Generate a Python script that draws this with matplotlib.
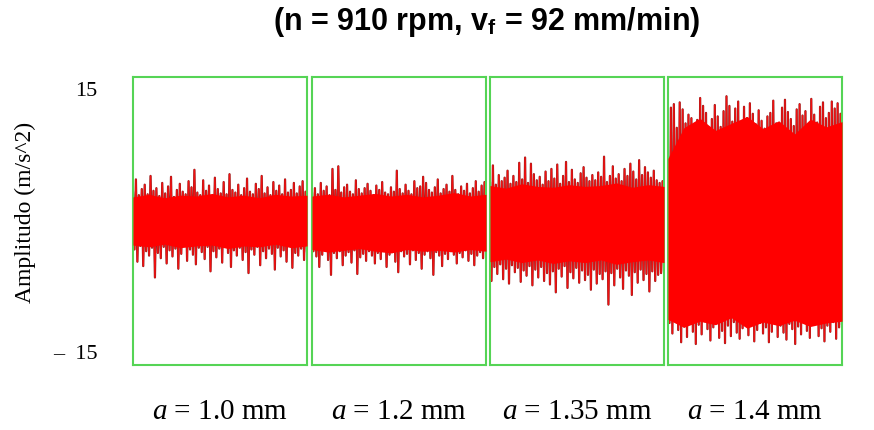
import numpy as np
import matplotlib.pyplot as plt

plt.rcParams['mathtext.fontset'] = 'custom'
plt.rcParams['mathtext.it'] = 'Liberation Serif:italic'
plt.rcParams['mathtext.rm'] = 'Liberation Serif'
plt.rcParams['mathtext.bf'] = 'Liberation Sans:bold'

title = r'(n = 910 rpm, v$_\mathbf{f}$ = 92 mm/min)'
y_label = 'Amplitudo (m/s^2)'
y_ticks = [15, -15]
y_tick_labels = ['15', '\u2013  15']
depth_labels = ['1.0', '1.2', '1.35', '1.4']

# peak values (upper and lower swing of the signal)
p1_upper = [3.1, 4.6, 2.8, 3.5, 4.0, 2.9, 5.0, 3.3, 3.6, 2.7, 4.2, 3.0, 3.8, 4.9, 2.6, 3.4, 4.1, 3.2, 2.9, 4.4,
            3.7, 5.7, 3.1, 2.8, 4.5, 3.3, 3.9, 2.7, 4.8, 3.5, 3.0, 4.3, 2.9, 5.2, 3.4, 3.1, 4.0, 2.8, 3.6, 4.7,
            3.2, 2.9, 4.1, 3.5, 5.0, 3.0, 3.7, 2.8, 4.3, 3.3, 3.9, 2.9, 4.6, 3.1, 3.4, 4.2, 3.0, 3.8, 4.4, 3.2]
p1_lower = [-3.4, -4.8, -3.0, -5.3, -3.6, -4.1, -3.2, -6.6, -3.8, -4.4, -3.1, -5.0, -3.5, -4.2, -3.3, -5.6, -3.9, -3.0, -4.7, -3.4,
            -4.0, -5.1, -3.2, -3.7, -4.5, -3.1, -5.9, -3.6, -4.3, -3.3, -4.9, -3.0, -3.8, -5.4, -3.5, -4.1, -3.2, -4.6, -3.7, -6.1,
            -3.4, -4.0, -3.1, -5.2, -3.6, -4.4, -3.3, -3.9, -5.7, -3.2, -4.2, -3.5, -4.8, -3.0, -5.5, -3.8, -4.1, -3.3, -4.6, -3.6]
p2_upper = [3.0, 3.6, 2.9, 4.2, 3.3, 3.8, 2.8, 5.8, 3.4, 6.1, 3.1, 3.7, 4.0, 3.2, 2.9, 4.5, 3.5, 3.0, 3.6, 4.1,
            3.3, 2.8, 3.9, 3.4, 4.3, 3.1, 2.9, 3.7, 3.2, 5.6, 3.5, 3.0, 4.0, 3.3, 2.9, 4.4, 3.6, 3.8, 4.9, 4.2,
            3.4, 3.1, 3.7, 4.6, 3.0, 3.5, 4.0, 3.2, 5.0, 3.4, 2.9, 3.8, 3.3, 4.1, 3.0, 3.6, 4.4, 3.2, 3.9, 4.3]
p2_lower = [-3.6, -4.2, -5.4, -4.0, -3.5, -4.6, -6.3, -3.8, -4.4, -3.6, -5.2, -4.1, -3.7, -4.9, -3.5, -6.2, -4.3, -3.9, -4.7, -3.6,
            -4.1, -5.0, -3.8, -4.5, -3.5, -5.4, -4.0, -3.7, -4.8, -6.0, -3.6, -4.2, -3.9, -5.1, -3.5, -4.6, -3.8, -5.6, -4.0, -3.6,
            -4.4, -6.3, -3.7, -4.1, -5.3, -3.9, -4.5, -3.6, -4.0, -5.0, -3.8, -4.3, -3.5, -4.7, -3.9, -5.2, -4.1, -3.7, -4.4, -3.6]
p3_upper = [4.2, 6.2, 4.0, 5.1, 4.4, 4.8, 5.6, 4.1, 5.0, 4.3, 6.5, 4.6, 7.1, 4.2, 6.4, 5.2, 4.5, 4.9, 4.0, 5.5,
            4.4, 5.8, 4.7, 6.3, 4.1, 5.0, 6.6, 4.3, 5.7, 4.6, 4.2, 5.3, 6.0, 4.8, 4.4, 5.1, 4.5, 5.4, 4.9, 7.2,
            4.3, 5.0, 6.1, 4.7, 5.2, 4.4, 5.8, 5.0, 6.4, 5.5, 4.6, 6.8, 5.1, 6.0, 5.4, 4.8, 5.6, 4.5, 4.2, 4.4]
p3_lower = [-7.0, -5.4, -6.2, -5.1, -6.8, -5.6, -7.3, -5.2, -6.0, -5.5, -7.1, -5.8, -6.4, -5.3, -7.5, -5.7, -6.6, -5.4, -7.0, -6.1,
            -7.4, -5.9, -8.3, -5.6, -6.5, -5.3, -7.8, -6.0, -6.7, -5.5, -7.2, -5.8, -6.9, -6.3, -8.0, -5.7, -7.3, -6.2, -6.8, -5.9,
            -9.7, -6.1, -7.5, -5.6, -6.6, -7.9, -5.8, -6.4, -8.6, -6.0, -7.2, -5.7, -6.9, -6.2, -8.2, -5.9, -7.0, -6.3, -6.1, -5.8]
p4_upper = [7.2, 12.8, 13.2, 10.5, 13.4, 12.6, 11.0, 12.0, 11.6, 10.8, 11.4, 13.9, 13.0, 12.2, 9.8, 11.5, 13.1, 11.8, 10.6, 12.4,
            14.1, 13.0, 11.2, 12.7, 13.5, 10.2, 12.9, 11.6, 13.3, 12.1, 10.9, 12.5, 11.3, 10.4, 11.8, 12.2, 13.6, 11.0, 9.2, 12.8,
            13.7, 12.3, 11.5, 10.7, 12.6, 13.2, 11.9, 12.4, 10.8, 13.8, 12.0, 11.1, 12.9, 13.4, 11.6, 12.2, 13.5, 12.7, 13.3, 12.1]
p4_lower = [-11.8, -13.0, -11.5, -12.6, -14.0, -12.2, -13.4, -11.9, -12.8, -14.2, -12.0, -13.1, -11.6, -12.5, -13.8, -12.3, -11.2, -13.5, -12.7, -14.1,
            -12.1, -13.3, -11.7, -12.9, -13.6, -12.4, -11.4, -13.2, -12.0, -13.9, -12.6, -11.8, -13.0, -12.3, -14.0, -12.8, -11.5, -13.4, -12.1, -12.9,
            -13.7, -11.9, -12.5, -14.2, -12.2, -13.1, -11.6, -12.7, -13.5, -12.0, -11.3, -13.3, -12.4, -13.9, -12.1, -12.8, -11.7, -13.6, -12.3, -11.9]

# solid core of each band (edges of the densely filled region)
c1_upper = [2.6, 2.9, 2.5, 2.8, 2.7, 3.0, 2.6, 2.8, 2.5, 2.9, 2.7, 2.8]
c1_lower = [-2.9, -3.1, -2.8, -3.2, -3.0, -2.9, -3.3, -3.0, -3.1, -2.8, -3.2, -3.0]
c2_upper = [2.7, 2.9, 2.6, 2.8, 3.0, 2.7, 2.9, 2.6, 2.8, 3.1, 2.7, 2.9]
c2_lower = [-3.4, -3.7, -3.5, -3.3, -3.6, -3.8, -3.4, -3.6, -3.5, -3.7, -3.4, -3.6]
c3_upper = [3.9, 3.6, 4.1, 3.8, 3.7, 4.0, 3.8, 3.9, 4.2, 3.7, 4.0, 3.8]
c3_lower = [-4.8, -4.5, -4.9, -4.6, -5.0, -4.7, -4.9, -4.6, -5.1, -4.8, -4.6, -4.9]
c4_upper = [7.0, 10.5, 11.6, 10.2, 11.0, 11.8, 10.4, 11.3, 9.8, 11.5, 10.6, 11.2]
c4_lower = [-11.4, -12.3, -11.6, -12.0, -11.2, -12.4, -11.7, -12.1, -11.5, -12.2, -11.8, -11.6]

panels = [(p1_upper, p1_lower, c1_upper, c1_lower), (p2_upper, p2_lower, c2_upper, c2_lower),
          (p3_upper, p3_lower, c3_upper, c3_lower), (p4_upper, p4_lower, c4_upper, c4_lower)]
lefts = [133, 312, 490, 668]  # pixel positions of the green boxes

fig = plt.figure(figsize=(8.74, 4.31), dpi=100)

for i, (upper, lower, core_up, core_lo) in enumerate(panels):
    ax = fig.add_axes([lefts[i] / 874, 1 - 366 / 431, 174 / 874, 288 / 431])
    signal = np.column_stack([upper, lower]).ravel()
    t = np.arange(len(signal))
    ax.plot(t, signal, color='#8a2020', lw=1.6)
    ax.plot(t, signal, color='#f21010', lw=1.0)
    tc = np.linspace(0, len(signal) - 1, len(core_up))
    ax.fill_between(tc, core_lo, core_up, color='#ff0000', lw=0, zorder=3)
    ax.set_xlim(0, len(signal) - 1)
    ax.set_ylim(-16.6, 16.3)
    ax.set_xticks([])
    for s in ax.spines.values():
        s.set_color('#55d455')
        s.set_linewidth(1.5)
    if i == 0:
        ax.set_yticks(y_ticks)
        ax.set_yticklabels(y_tick_labels, family='Liberation Serif', fontsize=16)
        ax.tick_params(axis='y', length=0, pad=25.5)
    else:
        ax.set_yticks([])
    fig.text((lefts[i] + 87) / 874, 1 - 412 / 431, r'$a$ = ' + depth_labels[i] + ' mm',
             family='Liberation Serif', fontsize=21, ha='center', va='center')

fig.text(487 / 874, 1 - 22 / 431, title, family='Liberation Sans', fontweight='bold',
         fontsize=22, ha='center', va='center')
fig.text(25 / 874, 1 - 212 / 431, y_label, family='Liberation Serif', fontsize=17,
         rotation=90, ha='center', va='center')

fig.savefig('out.png', dpi=100)
